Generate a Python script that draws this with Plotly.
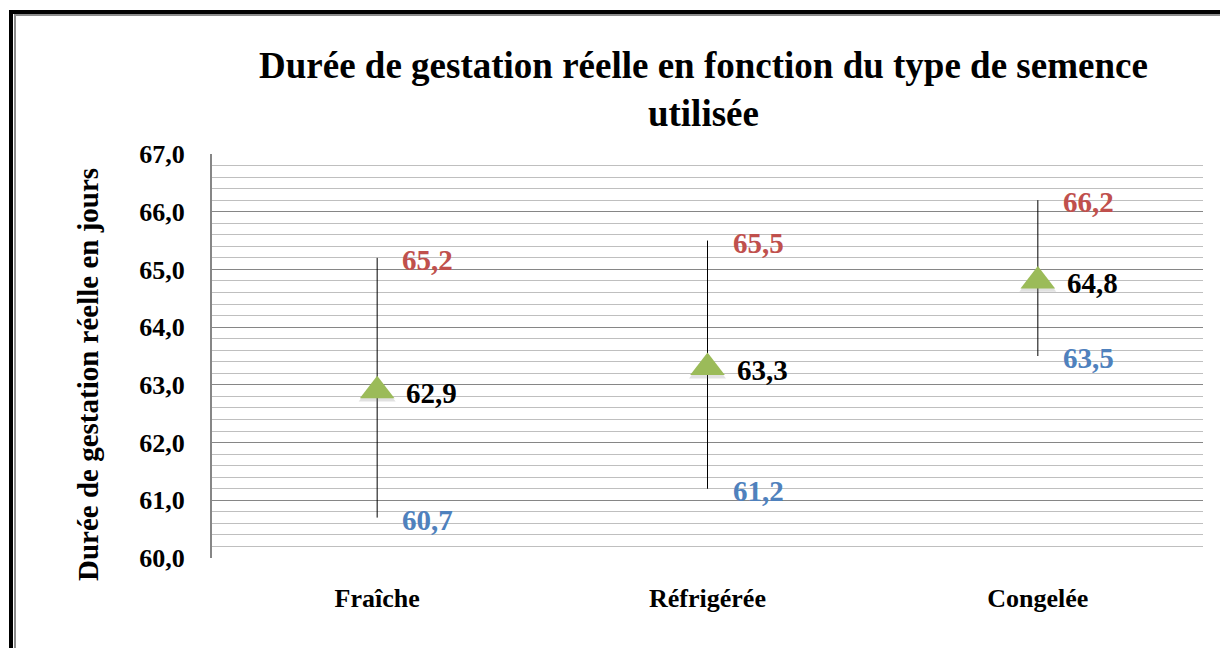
import plotly.graph_objects as go

categories = ["Fraîche", "Réfrigérée", "Congelée"]
maxima = [65.2, 65.5, 66.2]
means = [62.9, 63.3, 64.8]
minima = [60.7, 61.2, 63.5]

title_text = "Durée de gestation réelle en fonction du type de semence<br>utilisée"
y_title = "Durée de gestation réelle en jours"

def fmt(v):
    return f"{v:.1f}".replace(".", ",")

SERIF = "Liberation Serif, Times New Roman, serif"
W, H = 1220, 648
L, R, T, B = 212, 17, 154, 90
PW, PH = W - L - R, H - T - B

def px_x(x):
    return (x - L) / PW

def px_y(y):
    return 1 - (y - T) / PH

fig = go.Figure()

# range lines (min to max) via asymmetric error bars around the mean
fig.add_trace(go.Scatter(
    x=categories, y=means, mode="markers",
    marker=dict(symbol="triangle-up", size=26, color="rgba(0,0,0,0)"),
    error_y=dict(type="data", symmetric=False,
                 array=[mx - m for mx, m in zip(maxima, means)],
                 arrayminus=[m - mn for m, mn in zip(means, minima)],
                 color="black", thickness=1, width=0),
    hoverinfo="skip", showlegend=False))

# shadow of triangle
fig.add_trace(go.Scatter(
    x=categories, y=[m - 0.05 for m in means], mode="markers",
    marker=dict(symbol="triangle-up", size=32, color="rgba(120,120,120,0.22)",
                line=dict(width=0)),
    hoverinfo="skip", showlegend=False))

# mean triangles
fig.add_trace(go.Scatter(
    x=categories, y=means, mode="markers",
    marker=dict(symbol="triangle-up", size=30, color="#9BBB59", line=dict(width=0)),
    hoverinfo="skip", showlegend=False))

annotations = []
LABEL_FONT = 29
for cat, vals, color, shift in [
    (categories, maxima, "#C0504D", 23),
    (categories, means, "black", 27),
    (categories, minima, "#4F81BD", 23),
]:
    for c, v in zip(cat, vals):
        annotations.append(dict(
            x=c, y=v, xref="x", yref="y", text="<b>" + fmt(v) + "</b>",
            showarrow=False, xanchor="left", yanchor="middle", xshift=shift, yshift=-2,
            font=dict(family=SERIF, size=LABEL_FONT, color=color)))

# y-axis title as rotated annotation
annotations.append(dict(
    x=px_x(88), y=px_y(375), xref="paper", yref="paper",
    text="<b>" + y_title + "</b>", textangle=-90, showarrow=False,
    xanchor="center", yanchor="middle",
    font=dict(family=SERIF, size=29, color="black")))

# chart title as annotation
annotations.append(dict(
    x=px_x(703), y=px_y(89), xref="paper", yref="paper",
    text="<b>" + title_text + "</b>", showarrow=False,
    xanchor="center", yanchor="middle", align="center",
    font=dict(family=SERIF, size=37, color="black")))

shapes = [
    dict(type="rect", xref="paper", yref="paper",
         x0=px_x(11), x1=px_x(1240), y0=px_y(12), y1=px_y(680),
         line=dict(color="black", width=4), fillcolor="rgba(0,0,0,0)", layer="above"),
    dict(type="rect", xref="paper", yref="paper",
         x0=px_x(15), x1=px_x(1240), y0=px_y(15), y1=px_y(680),
         line=dict(color="#8C8C8C", width=2), fillcolor="rgba(0,0,0,0)", layer="above"),
]

fig.update_layout(
    width=W, height=H,
    margin=dict(l=L, r=R, t=T, b=B),
    paper_bgcolor="white", plot_bgcolor="white",
    separators=", ",
    shapes=shapes,
    annotations=annotations,
    xaxis=dict(range=[-0.5, 2.5], showgrid=False, zeroline=False,
               showline=False, ticks="", automargin=False,
               tickfont=dict(family=SERIF, size=26, color="black"),
               tickprefix="<b>", ticksuffix="</b>", ticklabelstandoff=22),
    yaxis=dict(range=[60, 67], dtick=1, tick0=60, tickformat=".1f",
               showgrid=True, gridcolor="#868686", gridwidth=1,
               minor=dict(dtick=0.2, showgrid=True, gridcolor="#BFBFBF", gridwidth=1),
               zeroline=False, showline=True, linecolor="#868686", linewidth=2,
               ticks="", ticklabelstandoff=20, automargin=False,
               tickprefix="<b>", ticksuffix="</b>",
               tickfont=dict(family=SERIF, size=26, color="black")),
)

fig.write_html("out.html", config={"displayModeBar": False},
               post_script="document.body.style.margin='0px';document.body.style.overflow='hidden';")
